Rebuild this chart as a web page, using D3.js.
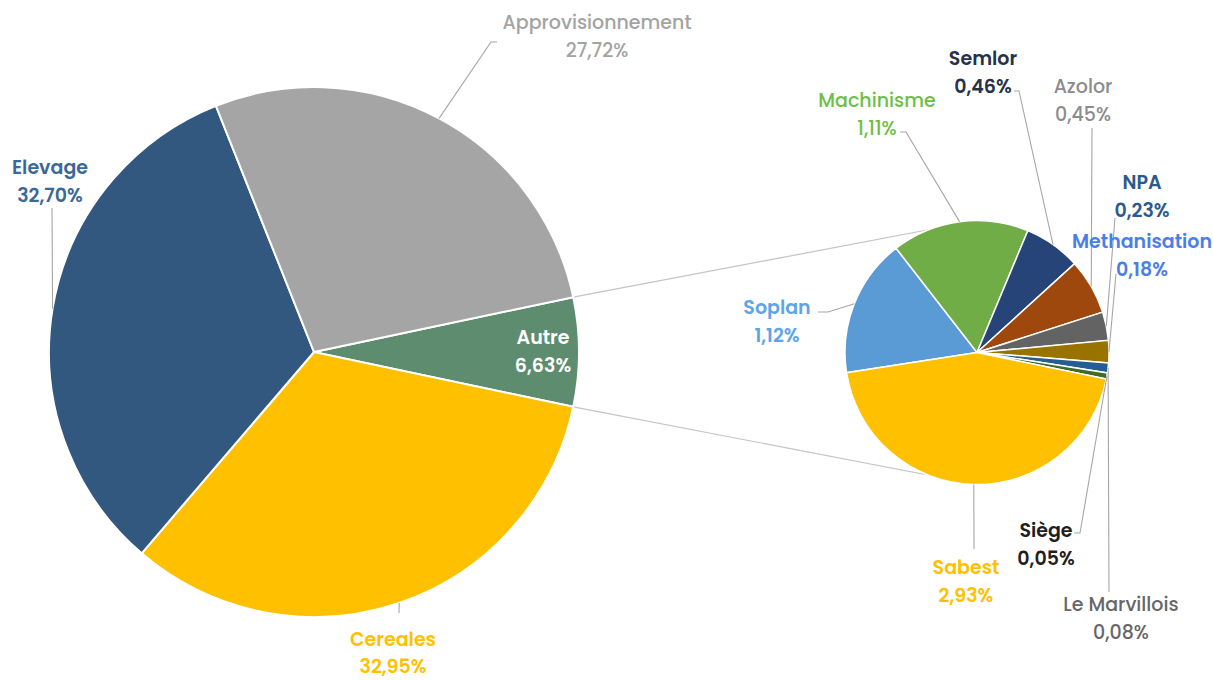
<!DOCTYPE html>
<html><head><meta charset="utf-8">
<script src="https://cdn.jsdelivr.net/npm/d3@7"></script>
<style>
html,body{margin:0;padding:0;background:#fff;}
text{font-family:Poppins,Inter,"Open Sans",sans-serif;font-weight:600;font-size:19px;}
</style></head><body>
<svg id="chart" width="1213" height="680"></svg>
<script>
// ---- Data ----
const mainCategories = ["Autre","Cereales","Elevage","Approvisionnement"];
const mainValues = [6.63, 32.95, 32.70, 27.72];
const mainLabels = ["6,63%","32,95%","32,70%","27,72%"];
const mainColors = ["#5D8C6F","#FFC000","#33587F","#A5A5A5"];

const subCategories = ["Soplan","Machinisme","Semlor","Azolor","NPA","Methanisation","Le Marvillois","Siège","Sabest"];
const subValues = [1.12, 1.11, 0.46, 0.45, 0.23, 0.18, 0.08, 0.05, 2.93];
const subLabels = ["1,12%","1,11%","0,46%","0,45%","0,23%","0,18%","0,08%","0,05%","2,93%"];
const subColors = ["#5B9BD5","#70AD47","#264478","#9E480E","#636363","#997300","#255E91","#43682B","#FFC000"];

// ---- Layout (positions / styles) ----
const W = 1213, H = 680;
const mainC = {x:314, y:352, r:265};
const subC = {x:977, y:352.5, r:132};
const deg = Math.PI/180;
const lineGap = 28;

const mainLabelLayout = {
  "Autre": {x:543, y:337, color:"#ffffff", inside:true},
  "Cereales": {x:393, y:639, gap:27, color:"#FFC000", leader:[[399,613]]},
  "Elevage": {x:50, y:167, color:"#3C6898", leader:[[52,208]]},
  "Approvisionnement": {x:597, y:22, color:"#A3A3A3", fw:500, leader:[[497,42],[491,42]]}
};
const subLabelLayout = {
  "Soplan": {x:777, y:307, color:"#5EA5E8", leader:[[818,312],[828,312]]},
  "Machinisme": {x:877, y:100, color:"#6DBE45", fw:500, leader:[[900,132],[906,132]]},
  "Semlor": {x:983, y:58, color:"#27324A", leader:[[1014,91],[1019,91]]},
  "Azolor": {x:1083, y:86, color:"#8C8C8C", fw:500, leader:[[1092,128]]},
  "NPA": {x:1142, y:182, color:"#2B5B8C", leader:[[1115,218]]},
  "Methanisation": {x:1142, y:241, color:"#4A7EE8", leader:[[1116,274]]},
  "Le Marvillois": {x:1121, y:604, color:"#666666", fw:500, leader:[[1109,592]]},
  "Siège": {x:1046, y:530, color:"#1E1E1E", leader:[[1074,533],[1080,533]]},
  "Sabest": {x:966, y:567, color:"#FFC000", leader:[[974,549]]}
};

const svg = d3.select("#chart");
function edgePoint(c, a){ return [c.x + c.r*Math.sin(a), c.y - c.r*Math.cos(a)]; }

// Main pie: "Autre" centred on the right side
const mainStart = 90*deg - (mainValues[0]/d3.sum(mainValues))*Math.PI;
const mainPie = d3.pie().sort(null).startAngle(mainStart).endAngle(mainStart+2*Math.PI);
const mainArcs = mainPie(mainValues);

// Secondary pie: last slice (Sabest) centred near the bottom
const subTotal = d3.sum(subValues);
const lastFrac = subValues[subValues.length-1]/subTotal;
const subStart = 181.4*deg - 2*Math.PI*(1 - lastFrac/2);
const subPie = d3.pie().sort(null).startAngle(subStart).endAngle(subStart+2*Math.PI);
const subArcs = subPie(subValues);

// connector lines
const autre = mainArcs[0];
const pTop = edgePoint(mainC, autre.startAngle), pBot = edgePoint(mainC, autre.endAngle);
svg.append("line").attr("x1",pTop[0]).attr("y1",pTop[1]).attr("x2",subC.x).attr("y2",subC.y-subC.r)
  .attr("stroke","#C4C4C4").attr("stroke-width",1.2);
svg.append("line").attr("x1",pBot[0]).attr("y1",pBot[1]).attr("x2",subC.x).attr("y2",subC.y+subC.r)
  .attr("stroke","#C4C4C4").attr("stroke-width",1.2);

const mainArc = d3.arc().innerRadius(0).outerRadius(mainC.r);
svg.append("g").attr("transform",`translate(${mainC.x},${mainC.y})`)
  .selectAll("path").data(mainArcs).join("path")
  .attr("d",mainArc).attr("fill",(d,i)=>mainColors[i]).attr("stroke","#fff").attr("stroke-width",2);

const subArc = d3.arc().innerRadius(0).outerRadius(subC.r);
svg.append("g").attr("transform",`translate(${subC.x},${subC.y})`)
  .selectAll("path").data(subArcs).join("path")
  .attr("d",subArc).attr("fill",(d,i)=>subColors[i]).attr("stroke","#fff").attr("stroke-width",1.5);

function drawLabels(arcs, cats, labels, layout, c){
  arcs.forEach((d,i)=>{
    const L = layout[cats[i]];
    if(L.leader){
      const mid = (d.startAngle+d.endAngle)/2;
      const pts = L.leader.concat([edgePoint(c, mid)]);
      svg.append("path").attr("d", d3.line()(pts)).attr("fill","none")
        .attr("stroke","#A6A6A6").attr("stroke-width",1.1);
    }
    const t = svg.append("text").attr("text-anchor","middle").attr("fill",L.color)
      .style("font-weight", L.fw||600);
    t.append("tspan").attr("x",L.x).attr("y",L.y).attr("dy","0.35em").text(cats[i]);
    t.append("tspan").attr("x",L.x).attr("y",L.y+(L.gap||lineGap)).attr("dy","0.35em").text(labels[i]);
  });
}
drawLabels(mainArcs, mainCategories, mainLabels, mainLabelLayout, mainC);
drawLabels(subArcs, subCategories, subLabels, subLabelLayout, subC);
</script>
</body></html>
